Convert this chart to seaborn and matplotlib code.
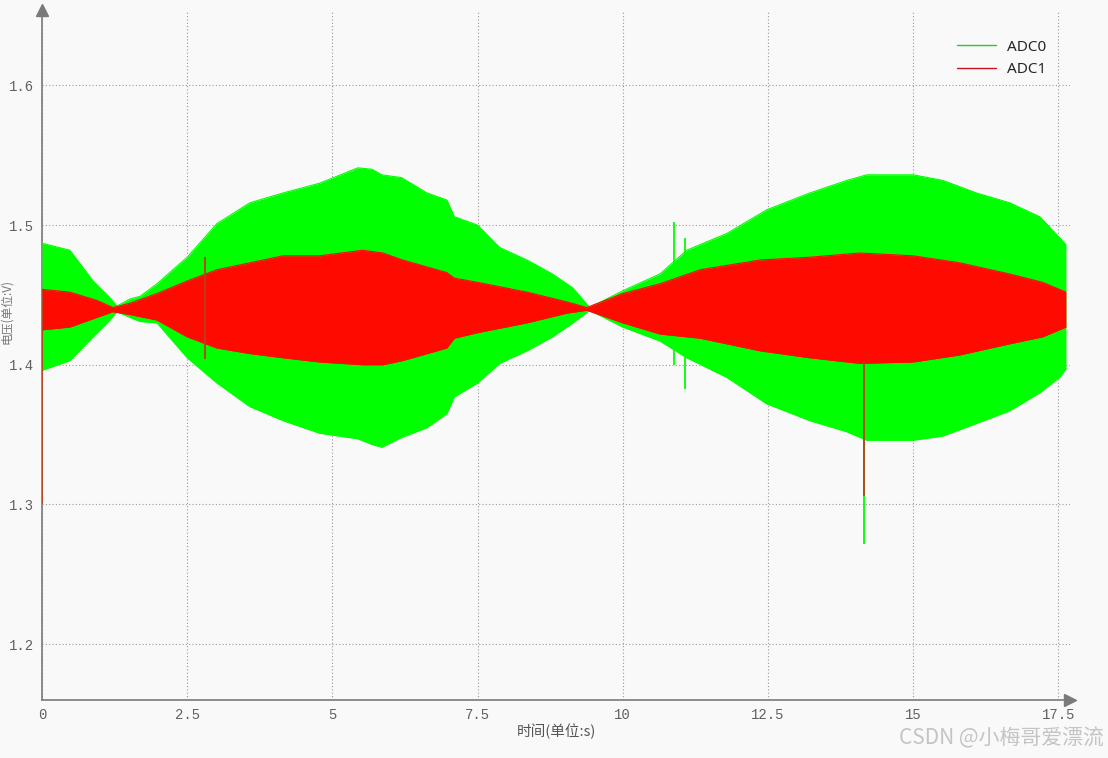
import numpy as np
import pandas as pd
import matplotlib
matplotlib.use('Agg')
import matplotlib.pyplot as plt
from matplotlib.lines import Line2D
import seaborn as sns

# ---------------------------------------------------
# data (envelopes of the two ADC channels)
# ---------------------------------------------------
adc0_t = [0.00, 0.48, 0.88, 1.17, 1.29, 1.51, 1.69, 1.98, 2.50, 3.01, 3.58, 4.15,
          4.78, 5.44, 5.68, 5.85, 6.19, 6.63, 6.97, 7.10, 7.50, 7.88, 8.35, 8.79,
          9.14, 9.43, 10.00, 10.64, 11.10, 11.79, 12.48, 13.22, 13.86, 14.20,
          15.00, 15.51, 16.09, 16.66, 17.18, 17.52, 17.63]
adc0_hi = [1.487, 1.482, 1.460, 1.448, 1.442, 1.447, 1.449, 1.458, 1.477, 1.501, 1.516, 1.523,
           1.530, 1.541, 1.540, 1.536, 1.534, 1.523, 1.518, 1.506, 1.500, 1.484, 1.475, 1.465,
           1.455, 1.441, 1.453, 1.465, 1.482, 1.494, 1.511, 1.523, 1.532, 1.536,
           1.536, 1.532, 1.523, 1.516, 1.506, 1.491, 1.486]
adc0_lo = [1.396, 1.403, 1.420, 1.432, 1.438, 1.434, 1.431, 1.430, 1.405, 1.387, 1.370, 1.360,
           1.351, 1.347, 1.343, 1.341, 1.348, 1.355, 1.365, 1.377, 1.387, 1.401, 1.410, 1.420,
           1.430, 1.439, 1.427, 1.417, 1.405, 1.391, 1.372, 1.360, 1.352, 1.346,
           1.346, 1.349, 1.358, 1.367, 1.380, 1.391, 1.397]

adc1_t = [0.00, 0.48, 0.95, 1.22, 1.51, 1.98, 2.50, 3.01, 3.58, 4.15, 4.78, 5.52,
          5.87, 6.21, 6.97, 7.10, 7.50, 8.35, 9.04, 9.38, 10.00, 10.64, 11.33, 12.36,
          13.22, 14.08, 15.00, 15.80, 16.66, 17.23, 17.63]
adc1_hi = [1.454, 1.452, 1.446, 1.441, 1.444, 1.451, 1.460, 1.468, 1.473, 1.478, 1.478, 1.482,
           1.480, 1.475, 1.466, 1.462, 1.459, 1.452, 1.445, 1.441, 1.451, 1.458, 1.468, 1.475,
           1.477, 1.480, 1.478, 1.473, 1.465, 1.459, 1.452]
adc1_lo = [1.425, 1.427, 1.434, 1.438, 1.436, 1.432, 1.420, 1.412, 1.408, 1.405, 1.402, 1.400,
           1.400, 1.403, 1.412, 1.419, 1.423, 1.430, 1.437, 1.439, 1.430, 1.422, 1.419, 1.410,
           1.405, 1.401, 1.402, 1.407, 1.415, 1.420, 1.427]

# isolated glitches (time, min, max)
adc0_spike_t = [10.88, 11.07, 14.15]
adc0_spike_lo = [1.400, 1.383, 1.272]
adc0_spike_hi = [1.502, 1.491, 1.346]
adc1_spike_t = [0.00, 2.80, 14.15]
adc1_spike_lo = [1.300, 1.404, 1.306]
adc1_spike_hi = [1.454, 1.477, 1.402]

x_ticks = [0, 2.5, 5, 7.5, 10, 12.5, 15, 17.5]
x_ticklabels = ['0', '2.5', '5', '7.5', '10', '12.5', '15', '17.5']
y_ticks = [1.2, 1.3, 1.4, 1.5, 1.6]
y_ticklabels = ['1.2', '1.3', '1.4', '1.5', '1.6']

GREEN = '#00ff00'
RED = '#ff0a00'
AXIS = '#7a7a7a'
BG = '#f9f9f9'

sns.set_theme(style='white', rc={'axes.facecolor': BG, 'figure.facecolor': BG})
plt.rcParams['font.family'] = ['Noto Sans CJK SC', 'DejaVu Sans']

fig = plt.figure(figsize=(11.08, 7.58), dpi=100)
ax = fig.add_axes([42 / 1108, 58 / 758, 1028 / 1108, 690 / 758])

df0 = pd.DataFrame({'t': adc0_t, 'hi': adc0_hi, 'lo': adc0_lo})
df1 = pd.DataFrame({'t': adc1_t, 'hi': adc1_hi, 'lo': adc1_lo})

# ADC0 envelope
ax.fill_between(df0['t'], df0['lo'], df0['hi'], color=GREEN, lw=0, zorder=3)
sns.lineplot(data=df0, x='t', y='hi', color=GREEN, lw=0.8, ax=ax, zorder=3)
sns.lineplot(data=df0, x='t', y='lo', color=GREEN, lw=0.8, ax=ax, zorder=3)
ax.vlines(adc0_spike_t, adc0_spike_lo, adc0_spike_hi, color=GREEN, lw=1.3, zorder=3)

# ADC1 envelope
ax.fill_between(df1['t'], df1['lo'], df1['hi'], color=RED, lw=0, zorder=4)
sns.lineplot(data=df1, x='t', y='hi', color=RED, lw=0.8, ax=ax, zorder=4)
sns.lineplot(data=df1, x='t', y='lo', color=RED, lw=0.8, ax=ax, zorder=4)
ax.vlines(adc1_spike_t, adc1_spike_lo, adc1_spike_hi, color='#b8401c', lw=1.3, zorder=5)

ax.set_xlim(0, 17.7)
ax.set_ylim(1.16, 1.654)

ax.set_xticks(x_ticks)
ax.set_xticklabels(x_ticklabels)
ax.set_yticks(y_ticks)
ax.set_yticklabels(y_ticklabels)
ax.set_xticks(np.arange(0, 17.6, 0.5), minor=True)
ax.set_yticks(np.arange(1.18, 1.65, 0.02), minor=True)

for lab in ax.get_xticklabels() + ax.get_yticklabels():
    lab.set_fontfamily('Liberation Mono')
    lab.set_fontsize(10)
    lab.set_color('#606060')

ax.tick_params(which='both', direction='in', color=AXIS, width=1)
ax.tick_params(which='major', length=5, pad=6)
ax.tick_params(which='minor', length=3)

ax.grid(True, which='major', ls=(0, (1, 2)), color='#9a9a9a', lw=0.8)
ax.set_axisbelow(True)

for s in ['top', 'right']:
    ax.spines[s].set_visible(False)
for s in ['left', 'bottom']:
    ax.spines[s].set_color(AXIS)
    ax.spines[s].set_linewidth(1.2)

# axis arrows
ax.plot(1, 1.16, marker='>', ms=8, color=AXIS, transform=ax.get_yaxis_transform(), clip_on=False)
ax.plot(0, 1, marker='^', ms=8, color=AXIS, transform=ax.get_xaxis_transform(), clip_on=False)

ax.set_xlabel('时间(单位:s)', fontsize=10.5, color='#555555', labelpad=1)
ax.set_ylabel('')
# y label squeezed against the left edge, as in the capture
fig.text(6.5 / 1108, 1 - 312 / 758, '电压(单位:V)', rotation=90, ha='center', va='center',
         fontsize=8.5, color='#777777')

handles = [Line2D([], [], color='#22cc22', lw=1), Line2D([], [], color='#cc1020', lw=1)]
fig.legend(handles, ['ADC0', 'ADC1'], loc='upper right', bbox_to_anchor=(1060 / 1108, 1 - 26 / 758),
           frameon=False, prop={'family': 'Noto Sans', 'size': 11},
           handlelength=2.6, labelspacing=0.5, handletextpad=0.7)

fig.text(0.996, 0.012, 'CSDN @小梅哥爱漂流', ha='right', va='bottom', fontsize=15, color='#c4c4c4')

fig.savefig('out.png', dpi=100, facecolor=BG)
